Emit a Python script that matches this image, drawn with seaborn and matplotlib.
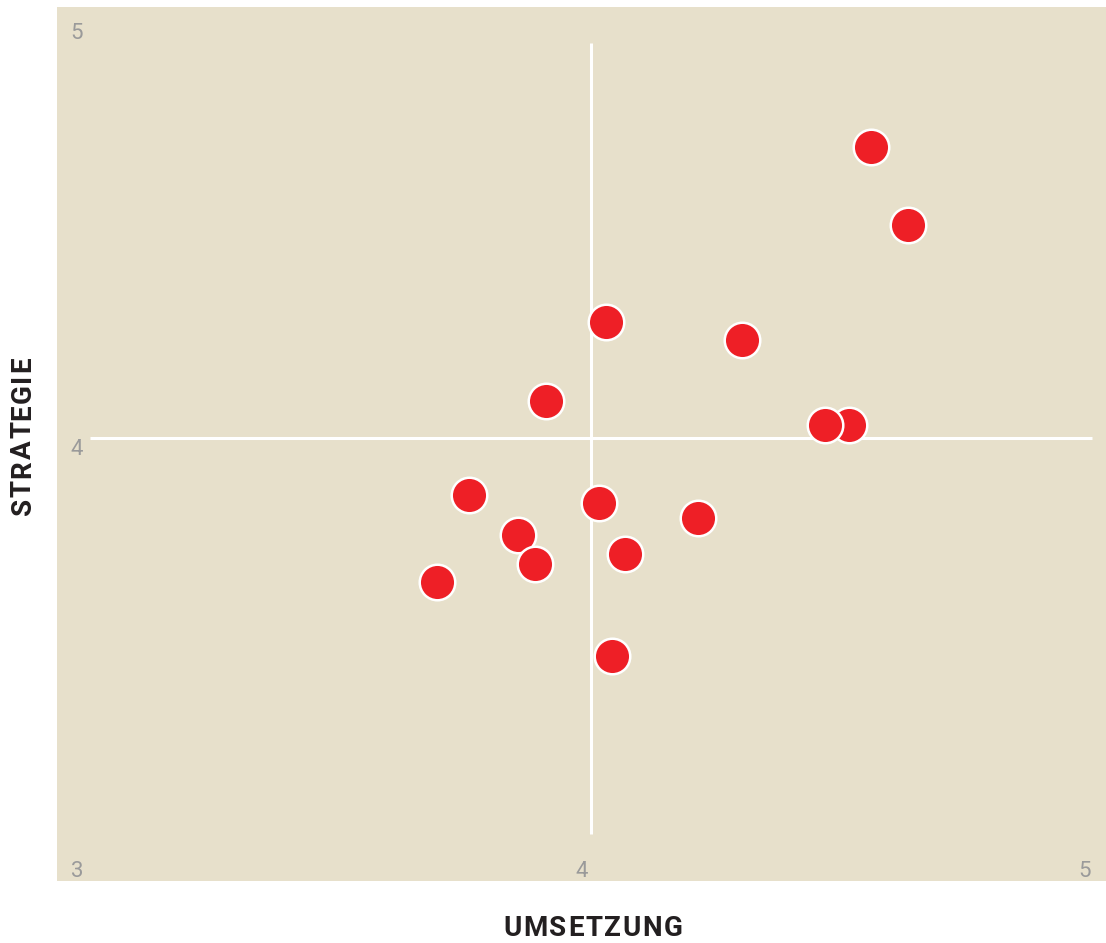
import pandas as pd
import numpy as np
import matplotlib.pyplot as plt
import seaborn as sns

# values (Umsetzung = x, Strategie = y)
umsetzung = [4.559, 4.632, 4.030, 4.302, 3.911, 4.515, 4.467, 3.757, 4.016,
             4.213, 3.855, 3.889, 4.068, 3.692, 4.042]
strategie = [4.736, 4.539, 4.293, 4.248, 4.094, 4.035, 4.035, 3.858, 3.838,
             3.798, 3.757, 3.684, 3.709, 3.638, 3.451]
x_ticks = ['3', '4', '5']
y_ticks = ['3', '4', '5']

bg = '#E7E0CB'
red = '#EE1F26'
dark = '#231F20'
grey = '#9A9A9A'

sns.set_style('white', {'axes.facecolor': bg})
plt.rcParams['font.family'] = ['Roboto', 'DejaVu Sans']

df = pd.DataFrame({'Umsetzung': umsetzung, 'Strategie': strategie})

W, H = 1106, 943
fig = plt.figure(figsize=(W / 100, H / 100), dpi=100)
ax = fig.add_axes([57 / W, 62 / H, 1 - 57 / W, (881 - 7) / H])

# reference lines at 4/4
ax.plot([3, 5], [4, 4], color='white', lw=2.2, zorder=1, solid_capstyle='butt')
ax.plot([4, 4], [3, 5], color='white', lw=2.2, zorder=1, solid_capstyle='butt')

sns.scatterplot(data=df, x='Umsetzung', y='Strategie', s=655, color=red,
                edgecolor='white', linewidth=1.8, ax=ax, zorder=3, legend=False)

ax.set_xlim(2.934, 5.028)
ax.set_ylim(2.882, 5.090)
ax.set_xticks([])
ax.set_yticks([])
ax.set_xlabel('')
ax.set_ylabel('')
for s in ax.spines.values():
    s.set_visible(False)

# tick labels drawn inside the plot area
tick_kw = dict(color=grey, fontsize=16, fontweight='normal', ha='center', va='center')
ax.text(2.974, 5.022, y_ticks[2], **tick_kw)
ax.text(2.974, 3.971, y_ticks[1], **tick_kw)
ax.text(2.974, 2.907, x_ticks[0], **tick_kw)
ax.text(3.982, 2.907, x_ticks[1], **tick_kw)
ax.text(4.986, 2.907, x_ticks[2], **tick_kw)


def spaced_label(txt, cx, cy, vertical=False, spacing=1.6, size=20):
    # draw letters one by one so the label gets some tracking
    renderer = fig.canvas.get_renderer()
    widths = []
    for ch in txt:
        t = fig.text(0, 0, ch, fontsize=size, fontweight='bold')
        widths.append(t.get_window_extent(renderer).width)
        t.remove()
    total = sum(widths) + spacing * (len(txt) - 1)
    pos = -total / 2
    for ch, w in zip(txt, widths):
        mid = pos + w / 2
        if vertical:
            # reads bottom to top
            fx, fy, rot = cx / W, (H - cy + mid) / H, 90
        else:
            fx, fy, rot = (cx + mid) / W, (H - cy) / H, 0
        fig.text(fx, fy, ch, color=dark, fontsize=size, fontweight='bold',
                 ha='center', va='center', rotation=rot)
        pos += w + spacing


spaced_label('UMSETZUNG', 593, 929)
spaced_label('STRATEGIE', 23, 436, vertical=True)

plt.savefig('out.png', dpi=100, facecolor='white')
